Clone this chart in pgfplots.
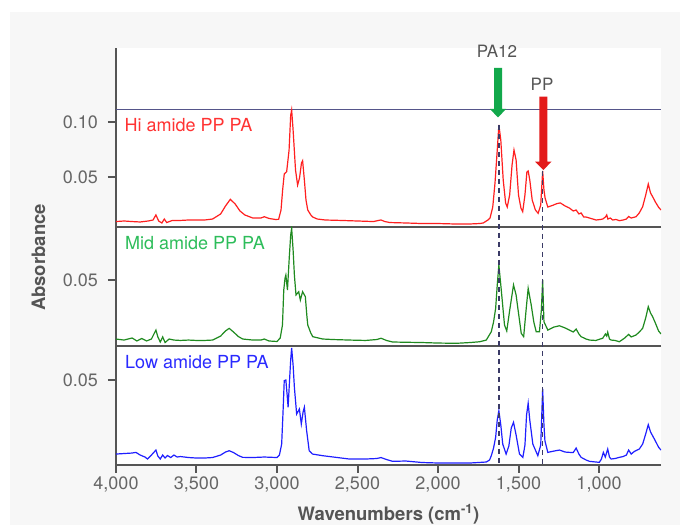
\documentclass[border=0pt]{standalone}
\usepackage{fontspec}
\setmainfont{TeX Gyre Heros}
\usepackage{pgfplots}
\pgfplotsset{compat=1.18}
\definecolor{bggray}{HTML}{F7F7F7}
\definecolor{axisgray}{HTML}{555555}
\definecolor{tickgray}{HTML}{666666}
\definecolor{navyline}{HTML}{55558A}
\definecolor{dashnavy}{HTML}{3A3A66}
\definecolor{tracered}{HTML}{FF1F1F}
\definecolor{tracegreen}{HTML}{1F8A1F}
\definecolor{traceblue}{HTML}{1F1FFF}
\definecolor{labred}{HTML}{FF3333}
\definecolor{labgreen}{HTML}{2DBD5A}
\definecolor{labblue}{HTML}{2A2AFF}
\definecolor{arrowgreen}{HTML}{12A84B}
\definecolor{arrowred}{HTML}{E31A1A}
\pgfplotsset{panel/.style={
  scale only axis, width=545pt, x dir=reverse, xmin=615, xmax=4000,
  axis x line*=bottom, axis y line*=left,
  axis line style={draw=axisgray, line width=2.5pt, -},
  tick align=outside, major tick length=8pt,
  tick style={draw=axisgray, line width=2pt},
  ticklabel style={font=\fontsize{18}{21}\selectfont, text=tickgray},
  yticklabel style={xshift=-6.5pt},
  scaled y ticks=false, scaled x ticks=false,
  xtick=\empty,
  anchor=south west,
}}
\begin{document}
\begin{tikzpicture}
\useasboundingbox (0,0) rectangle (680pt,525pt);
\fill[white] (0,0) rectangle (680pt,525pt);
\fill[bggray] (10pt,0) rectangle (680pt,513pt);
\fill[white] (116pt,60pt) rectangle (661pt,477pt);
% top
\begin{axis}[panel, at={(116pt,298pt)}, height=179pt, ymin=0.004545, ymax=0.16727,
  ytick={0.05,0.10}, yticklabels={0.05,0.10}]
\addplot[navyline, line width=1pt] coordinates {(4000,0.1118) (615,0.1118)};
\addplot[tracered, line width=1.2pt] coordinates {
(4000,0.0095)(3950,0.0100)(3900,0.0095)(3850,0.0091)(3800,0.0100)(3770,0.0109)(3752,0.0155)(3735,0.0100)(3715,0.0082)(3700,0.0118)(3685,0.0086)(3650,0.0105)(3600,0.0105)(3550,0.0109)(3500,0.0109)(3450,0.0109)(3400,0.0118)(3350,0.0164)(3320,0.0236)(3290,0.0297)(3260,0.0255)(3230,0.0191)(3200,0.0155)(3150,0.0127)(3100,0.0127)(3079,0.0139)(3050,0.0123)(3010,0.0114)(2990,0.0115)(2975,0.0200)(2965,0.0382)(2955,0.0527)(2940,0.0548)(2925,0.0745)(2915,0.106)(2909,0.1109)(2900,0.0927)(2885,0.0564)(2872,0.0427)(2860,0.0491)(2848,0.0627)(2841,0.0648)(2830,0.0473)(2820,0.0291)(2809,0.0200)(2790,0.0155)(2778,0.0136)(2750,0.0118)(2700,0.0109)(2600,0.0105)(2500,0.0100)(2400,0.0095)(2370,0.0105)(2354,0.0109)(2330,0.0095)(2300,0.0086)(2200,0.0082)(2100,0.0077)(2000,0.0077)(1900,0.0073)(1800,0.0073)(1740,0.0077)(1719,0.0082)(1690,0.0109)(1677,0.0127)(1660,0.0227)(1646,0.0445)(1632,0.0745)(1622,0.0973)(1610,0.0836)(1595,0.0473)(1580,0.0264)(1570,0.0227)(1555,0.0336)(1540,0.0609)(1528,0.0745)(1515,0.0655)(1500,0.0336)(1485,0.0218)(1474,0.0185)(1460,0.0336)(1448,0.0545)(1440,0.0555)(1430,0.0473)(1415,0.0291)(1395,0.0200)(1378,0.0170)(1362,0.0245)(1350,0.0555)(1342,0.0382)(1335,0.0309)(1318,0.0227)(1290,0.0241)(1260,0.0259)(1240,0.0264)(1210,0.0236)(1184,0.0218)(1160,0.0191)(1142,0.0200)(1125,0.0164)(1111,0.0173)(1095,0.0136)(1080,0.0136)(1050,0.0123)(1018,0.0109)(990,0.0114)(977,0.0118)(960,0.0136)(952,0.0155)(945,0.0118)(930,0.0127)(915,0.0109)(895,0.0114)(874,0.0103)(850,0.0109)(830,0.0118)(816,0.0141)(800,0.0127)(770,0.0139)(750,0.0173)(729,0.0230)(710,0.0336)(694,0.0436)(680,0.0355)(667,0.0321)(650,0.0273)(630,0.0225)(615,0.0200)};
\coordinate (paTop) at (axis cs:1622,0.0973);
\coordinate (ppTop) at (axis cs:1350,0.0555);
\end{axis}
% middle
\begin{axis}[panel, at={(116pt,179pt)}, height=119pt, ymin=-0.00077, ymax=0.0908,
  ytick={0.05}, yticklabels={0.05}]
\addplot[tracegreen, line width=1.2pt] coordinates {
(4000,0.0046)(3950,0.0038)(3900,0.0054)(3870,0.0031)(3840,0.0050)(3810,0.0031)(3780,0.0046)(3752,0.0115)(3740,0.0062)(3725,0.0023)(3710,0.0062)(3695,0.0019)(3670,0.0046)(3640,0.0038)(3600,0.0035)(3550,0.0038)(3500,0.0035)(3450,0.0035)(3400,0.0038)(3350,0.0069)(3320,0.0108)(3297,0.0128)(3270,0.0100)(3240,0.0065)(3213,0.0046)(3150,0.0038)(3100,0.0038)(3079,0.0046)(3050,0.0031)(3000,0.0027)(2980,0.0054)(2966,0.0154)(2958,0.0423)(2950,0.0515)(2945,0.0538)(2935,0.0423)(2924,0.0669)(2915,0.0846)(2909,0.0898)(2900,0.0731)(2892,0.0538)(2882,0.0385)(2865,0.0410)(2855,0.0346)(2841,0.0410)(2824,0.0372)(2815,0.0231)(2809,0.0154)(2790,0.0092)(2778,0.0064)(2716,0.0046)(2650,0.0042)(2550,0.0038)(2450,0.0035)(2380,0.0042)(2354,0.0052)(2320,0.0035)(2282,0.0023)(2200,0.0021)(2100,0.0019)(2000,0.0015)(1886,0.0013)(1800,0.0019)(1742,0.0025)(1700,0.0038)(1669,0.0102)(1655,0.0177)(1642,0.0282)(1632,0.0462)(1622,0.0615)(1608,0.0436)(1587,0.0154)(1573,0.0108)(1553,0.0282)(1531,0.0462)(1515,0.0385)(1504,0.0282)(1483,0.0090)(1468,0.0064)(1452,0.0282)(1440,0.0436)(1421,0.0308)(1405,0.0177)(1390,0.0102)(1370,0.0102)(1358,0.0269)(1350,0.0500)(1342,0.0179)(1318,0.0115)(1280,0.0138)(1246,0.0148)(1210,0.0131)(1184,0.0115)(1160,0.0100)(1142,0.0123)(1125,0.0085)(1111,0.0064)(1080,0.0046)(1059,0.0038)(1020,0.0035)(977,0.0052)(960,0.0085)(952,0.0069)(946,0.0098)(935,0.0046)(925,0.0038)(900,0.0035)(874,0.0025)(840,0.0054)(816,0.0082)(800,0.0062)(770,0.0077)(750,0.0100)(729,0.0128)(710,0.0208)(694,0.0295)(680,0.0246)(667,0.0218)(650,0.0169)(630,0.0108)(615,0.0085)};
\end{axis}
% bottom
\begin{axis}[panel, at={(116pt,60pt)}, height=119pt, ymin=-0.0012, ymax=0.07048,
  ytick={0.05}, yticklabels={0.05},
  xtick={1000,1500,2000,2500,3000,3500,4000},
  xticklabels={{1,000},{1,500},{2,000},{2,500},{3,000},{3,500},{4,000}}]
\addplot[traceblue, line width=1.2pt] coordinates {
(4000,0.0054)(3950,0.0057)(3900,0.0060)(3876,0.0064)(3850,0.0048)(3820,0.0036)(3804,0.0024)(3780,0.0048)(3752,0.0078)(3740,0.0042)(3725,0.0024)(3710,0.0048)(3695,0.0030)(3680,0.0045)(3660,0.0033)(3640,0.0048)(3620,0.0036)(3600,0.0039)(3550,0.0033)(3500,0.0030)(3450,0.0030)(3400,0.0033)(3350,0.0048)(3320,0.0066)(3297,0.0074)(3270,0.0063)(3240,0.0045)(3213,0.0034)(3150,0.0033)(3079,0.0036)(3000,0.0033)(2985,0.0048)(2971,0.0114)(2962,0.0319)(2955,0.0496)(2945,0.0500)(2937,0.0410)(2931,0.0336)(2921,0.0516)(2915,0.0620)(2909,0.0693)(2900,0.0590)(2892,0.0456)(2878,0.0295)(2861,0.0325)(2849,0.0235)(2838,0.0307)(2830,0.0336)(2816,0.0195)(2800,0.0074)(2780,0.0054)(2716,0.0044)(2650,0.0036)(2551,0.0024)(2450,0.0024)(2380,0.0027)(2354,0.0033)(2320,0.0021)(2282,0.0010)(2200,0.0012)(2100,0.0003)(2000,0.0)(1900,0.0)(1800,0.0)(1700,0.0006)(1680,0.0018)(1669,0.0044)(1655,0.0090)(1642,0.0155)(1632,0.0259)(1622,0.0315)(1610,0.0229)(1598,0.0114)(1577,0.0054)(1560,0.0102)(1545,0.0211)(1531,0.0245)(1515,0.0169)(1494,0.0054)(1473,0.0034)(1460,0.0108)(1450,0.0289)(1440,0.0360)(1430,0.0259)(1411,0.0114)(1380,0.0044)(1362,0.0108)(1350,0.0446)(1342,0.0229)(1336,0.0134)(1318,0.0064)(1280,0.0072)(1246,0.0078)(1210,0.0066)(1184,0.0064)(1160,0.0063)(1142,0.0090)(1125,0.0054)(1111,0.0034)(1080,0.0018)(1059,0.0010)(998,0.0004)(985,0.0024)(973,0.0064)(961,0.0036)(946,0.0084)(935,0.0036)(925,0.0024)(900,0.0027)(874,0.0034)(850,0.0039)(830,0.0048)(816,0.0078)(800,0.0054)(780,0.0070)(750,0.0084)(729,0.0114)(710,0.0175)(694,0.0231)(680,0.0187)(667,0.0164)(650,0.0133)(630,0.0095)(615,0.0078)};
\coordinate (botRef) at (axis cs:4000,-0.0012);
\end{axis}
% dashed marker lines
\draw[dashnavy, line width=1.6pt, dash pattern=on 5pt off 4pt] (paTop) -- (paTop |- botRef);
\draw[dashnavy, line width=1.6pt, dash pattern=on 5pt off 4pt] (ppTop) -- (ppTop |- botRef);
% arrows
\fill[arrowgreen] (494pt,457pt) -- (502pt,457pt) -- (502pt,416pt) -- (506pt,416pt) -- (498pt,407.5pt) -- (490pt,416pt) -- (494pt,416pt) -- cycle;
\fill[arrowred] (539.3pt,428.3pt) -- (547.3pt,428.3pt) -- (547.3pt,363.3pt) -- (551.5pt,363.3pt) -- (543.3pt,355pt) -- (535.1pt,363.3pt) -- (539.3pt,363.3pt) -- cycle;
% texts
\node[anchor=base, text=axisgray, font=\fontsize{17}{20}\selectfont, inner sep=0] at (497pt,467pt) {PA12};
\node[anchor=base, text=axisgray, font=\fontsize{17}{20}\selectfont, inner sep=0] at (542pt,434pt) {PP};
\node[anchor=base west, text=labred, font=\fontsize{18}{21}\selectfont, inner sep=0] at (124.5pt,393pt) {Hi amide PP PA};
\node[anchor=base west, text=labgreen, font=\fontsize{18}{21}\selectfont, inner sep=0] at (125pt,275pt) {Mid amide PP PA};
\node[anchor=base west, text=labblue, font=\fontsize{18}{21}\selectfont, inner sep=0] at (125pt,156pt) {Low amide PP PA};
\node[anchor=base, text=axisgray, font=\fontsize{18.5}{21}\selectfont\bfseries, inner sep=0] at (388.5pt,5pt) {Wavenumbers (cm\textsuperscript{-1})};
\node[anchor=base, rotate=90, text=axisgray, font=\fontsize{18.5}{21}\selectfont\bfseries, inner sep=0] at (45pt,267.5pt) {Absorbance};
\end{tikzpicture}
\end{document}
